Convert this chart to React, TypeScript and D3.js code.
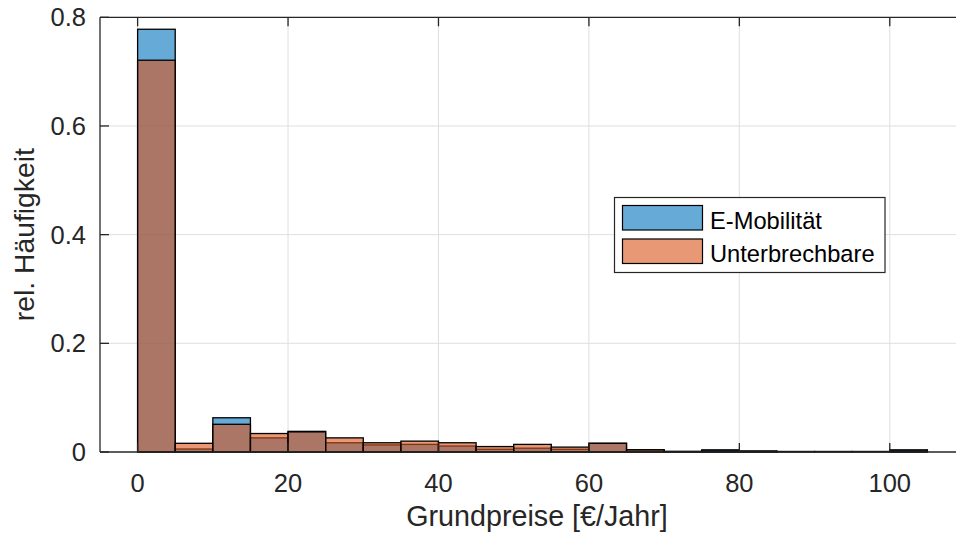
import React from "react";
import * as d3 from "d3";

// histogram bins (width 5, left edges)
const binEdges = [0, 5, 10, 15, 20, 25, 30, 35, 40, 45, 50, 55, 60, 65, 70, 75, 80, 85, 90, 95, 100];
const eMobilitaet = [0.778, 0.0055, 0.063, 0.026, 0.038, 0.017, 0.013, 0.014, 0.011, 0.005, 0.007, 0.005, 0.016, 0.004, 0.001, 0.004, 0.002, 0.001, 0.001, 0.001, 0.004];
const unterbrechbare = [0.721, 0.016, 0.051, 0.034, 0.037, 0.026, 0.017, 0.02, 0.017, 0.01, 0.014, 0.009, 0.016, 0.004, 0.001, 0.002, 0.001, 0, 0, 0, 0.002];
const binWidth = 5;
const xTicks = [0, 20, 40, 60, 80, 100];
const yTicks = [0, 0.2, 0.4, 0.6, 0.8];
const seriesNames = ["E-Mobilität", "Unterbrechbare"];
const seriesColors = ["#0072BD", "#D95319"];

const W = 956;
const H = 533;
const margin = { top: 17.3, right: -9, bottom: 81, left: 100 };
const FONT = "'Liberation Sans', Arial, Helvetica, sans-serif";
const AXIS = "#262626";

export default function App() {
  const x = d3.scaleLinear().domain([-5, 110]).range([margin.left, W - margin.right]);
  const y = d3.scaleLinear().domain([0, 0.8]).range([H - margin.bottom, margin.top]);
  const [x0, x1] = x.range();
  const [y0, y1] = y.range();
  const tick = 9;

  const series = [eMobilitaet, unterbrechbare];

  return (
    <div style={{ position: "absolute", left: 0, top: 0 }}>
      <svg width={W} height={H} style={{ display: "block", background: "#fff" }} fontFamily={FONT}>
        {/* grid */}
        {xTicks.map((t) => (
          <line key={"gx" + t} x1={x(t)} x2={x(t)} y1={y0} y2={y1} stroke="#dfdfdf" strokeWidth={1} />
        ))}
        {yTicks.slice(1, -1).map((t) => (
          <line key={"gy" + t} x1={x0} x2={x1} y1={y(t)} y2={y(t)} stroke="#dfdfdf" strokeWidth={1} />
        ))}

        {/* bars */}
        {series.map((vals, si) => (
          <g key={"s" + si}>
            {vals.map((v, i) => (
              <rect
                key={i}
                x={x(binEdges[i])}
                y={y(v)}
                width={x(binEdges[i] + binWidth) - x(binEdges[i])}
                height={y(0) - y(v)}
                fill={seriesColors[si]}
                fillOpacity={0.6}
                stroke="#000"
                strokeWidth={1.3}
              />
            ))}
          </g>
        ))}

        {/* axes box */}
        <line x1={x0} x2={x1} y1={y0} y2={y0} stroke={AXIS} strokeWidth={1.3} />
        <line x1={x0} x2={x1} y1={y1} y2={y1} stroke={AXIS} strokeWidth={1.3} />
        <line x1={x0} x2={x0} y1={y0} y2={y1} stroke={AXIS} strokeWidth={1.3} />
        {xTicks.map((t) => (
          <g key={"tx" + t}>
            <line x1={x(t)} x2={x(t)} y1={y0} y2={y0 - tick} stroke={AXIS} strokeWidth={1.3} />
            <line x1={x(t)} x2={x(t)} y1={y1} y2={y1 + tick} stroke={AXIS} strokeWidth={1.3} />
            <text x={x(t)} y={y0 + 40} textAnchor="middle" fontSize={25.5} fill={AXIS}>
              {t}
            </text>
          </g>
        ))}
        {yTicks.map((t) => (
          <g key={"ty" + t}>
            <line x1={x0} x2={x0 + tick} y1={y(t)} y2={y(t)} stroke={AXIS} strokeWidth={1.3} />
            <text x={86} y={y(t) + 9} textAnchor="end" fontSize={25.5} fill={AXIS}>
              {t === 0 ? "0" : t.toFixed(1)}
            </text>
          </g>
        ))}

        {/* axis labels */}
        <text x={537} y={526} textAnchor="middle" fontSize={28.7} fill={AXIS}>
          Grundpreise [€/Jahr]
        </text>
        <text
          transform={`translate(${34},${(y0 + y1) / 2}) rotate(-90)`}
          textAnchor="middle"
          fontSize={28.3}
          fill={AXIS}
        >
          rel. Häufigkeit
        </text>

        {/* legend */}
        <g>
          <rect x={614.5} y={197.5} width={270.5} height={75} fill="#fff" stroke={AXIS} strokeWidth={1.2} />
          {seriesNames.map((name, i) => (
            <g key={name} transform={`translate(0,${i * 33.5})`}>
              <rect x={622.5} y={205.5} width={80} height={24.5} fill={seriesColors[i]} fillOpacity={0.6} stroke="#000" strokeWidth={1.2} />
              <text x={710} y={228.5} fontSize={23.7} fill="#000">
                {name}
              </text>
            </g>
          ))}
        </g>
      </svg>
    </div>
  );
}
